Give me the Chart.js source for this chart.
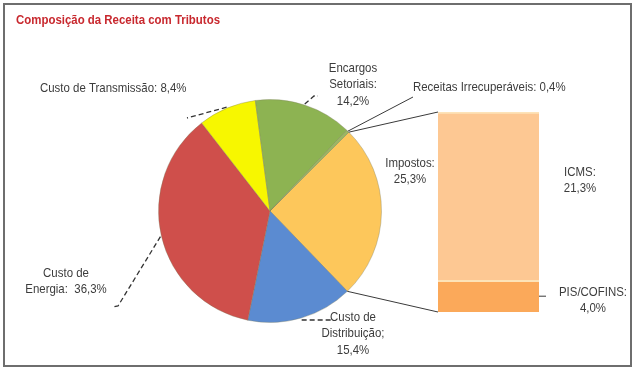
<!DOCTYPE html>
<html>
<head>
<meta charset="utf-8">
<script src="https://cdn.jsdelivr.net/npm/chart.js@4.4.1/dist/chart.umd.min.js"></script>
<style>
    body { margin: 0; background: #fff; }
    #moldura { position: relative; width: 640px; height: 372px; }
    #moldura canvas { position: absolute; left: 0; top: 0; }
    #borda { position: absolute; left: 3px; top: 3px; width: 629px; height: 364px; border: 2px solid #6e6e6e; box-sizing: border-box; }
</style>
</head>
<body>
<div id="moldura">
    <canvas id="graficoPizza" width="640" height="372"></canvas>
    <canvas id="graficoBarra" width="640" height="372"></canvas>
    <div id="borda"></div>
</div>
<script>
// dados
const titulo = 'Composição da Receita com Tributos';
const categorias = ['Impostos', 'Custo de Distribuição', 'Custo de Energia', 'Custo de Transmissão', 'Encargos Setoriais', 'Receitas Irrecuperáveis'];
const percentuais = [25.3, 15.4, 36.3, 8.4, 14.2, 0.4];
const coresPizza = ['#fdc75b', '#5b8bd1', '#cf4f4b', '#f7f700', '#8db352', '#9bb860'];

const tributos = ['PIS/COFINS', 'ICMS'];
const valoresTributos = [4.0, 21.3];
const coresTributos = ['#fba95a', '#fdc893'];

const fonte = '"Liberation Sans", Arial, sans-serif';

function fmt(v) {
    return v.toFixed(1).replace('.', ',') + '%';
}

// pontos na borda da pizza
function pontoArco(arco, ang, extra) {
    const r = arco.outerRadius + (extra || 0);
    return { x: arco.x + Math.cos(ang) * r, y: arco.y + Math.sin(ang) * r };
}

function linha(ctx, pts, tracejada) {
    ctx.save();
    ctx.beginPath();
    ctx.strokeStyle = tracejada ? '#333' : '#3a3a3a';
    ctx.lineWidth = tracejada ? 1.3 : 1;
    ctx.setLineDash(tracejada ? [5, 3] : []);
    ctx.moveTo(pts[0].x, pts[0].y);
    for (let i = 1; i < pts.length; i++) ctx.lineTo(pts[i].x, pts[i].y);
    ctx.stroke();
    ctx.restore();
}

// texto estreito (imita Arial Narrow)
function texto(ctx, linhas, x, y, alinhar) {
    const esc = 0.88;
    ctx.save();
    ctx.font = '13px ' + fonte;
    ctx.fillStyle = '#3c3c3c';
    ctx.textAlign = alinhar || 'center';
    ctx.textBaseline = 'middle';
    ctx.translate(x, y);
    ctx.scale(esc, 1);
    linhas.forEach((l, i) => ctx.fillText(l, 0, i * 16.5));
    ctx.restore();
}

const pizza = new Chart(document.getElementById('graficoPizza').getContext('2d'), {
    type: 'pie',
    data: {
        labels: categorias,
        datasets: [{
            data: percentuais,
            backgroundColor: coresPizza,
            borderColor: 'rgba(120,120,90,0.35)',
            borderWidth: 1
        }]
    },
    options: {
        responsive: false,
        animation: false,
        rotation: 45,
        layout: { padding: { left: 158, right: 258, top: 99, bottom: 49 } },
        plugins: { legend: { display: false }, tooltip: { enabled: false } }
    }
});

const rotulosPlugin = {
    id: 'rotulos',
    afterDraw(chart) {
        const ctx = chart.ctx;
        const arcos = pizza.getDatasetMeta(0).data;
        const meio = a => (a.startAngle + a.endAngle) / 2;
        const barra = chart.getDatasetMeta(0).data[0];
        const topo = chart.getDatasetMeta(1).data[0];
        const esq = barra.x - barra.width / 2;

        // titulo
        ctx.save();
        ctx.font = 'bold 13px ' + fonte;
        ctx.fillStyle = '#c8282e';
        ctx.textBaseline = 'middle';
        const w = ctx.measureText(titulo).width;
        ctx.translate(16, 20);
        ctx.scale(204 / w, 1);
        ctx.fillText(titulo, 0, 0);
        ctx.restore();

        // ligacoes pizza -> barra
        const imp = arcos[0];
        linha(ctx, [pontoArco(imp, imp.startAngle), { x: esq, y: topo.y }]);
        linha(ctx, [pontoArco(imp, imp.endAngle), { x: esq, y: barra.base }]);

        // linhas de chamada
        const pDist = pontoArco(arcos[1], meio(arcos[1]), 2);
        linha(ctx, [pDist, { x: pDist.x + 30, y: pDist.y }], true);
        const pEne = pontoArco(arcos[2], meio(arcos[2]), 1);
        linha(ctx, [pEne, { x: 118, y: 306 }, { x: 113, y: 307 }], true);
        const pTra = pontoArco(arcos[3], meio(arcos[3]), 1);
        linha(ctx, [pTra, { x: 187, y: 118 }], true);
        const pEnc = pontoArco(arcos[4], meio(arcos[4]), 1);
        linha(ctx, [pEnc, { x: 314, y: 96 }, { x: 318, y: 96 }], true);
        const pRec = pontoArco(arcos[5], meio(arcos[5]), 0);
        linha(ctx, [pRec, { x: 413, y: 97 }]);
        const dir = barra.x + barra.width / 2;
        linha(ctx, [{ x: dir, y: (barra.y + barra.base) / 2 }, { x: dir + 7, y: (barra.y + barra.base) / 2 }]);

        // textos
        texto(ctx, ['Custo de Transmissão: ' + fmt(percentuais[3])], 40, 88, 'left');
        texto(ctx, ['Encargos', 'Setoriais:', fmt(percentuais[4])], 353, 68);
        texto(ctx, ['Receitas Irrecuperáveis: ' + fmt(percentuais[5])], 413, 87, 'left');
        texto(ctx, ['Impostos:', fmt(percentuais[0])], 410, 163);
        texto(ctx, [tributos[1] + ':', fmt(valoresTributos[1])], 580, 172);
        texto(ctx, [tributos[0] + ':', fmt(valoresTributos[0])], 593, 292);
        texto(ctx, ['Custo de', 'Distribuição;', fmt(percentuais[1])], 353, 317);
        texto(ctx, ['Custo de', 'Energia:  ' + fmt(percentuais[2])], 66, 273);
    }
};

new Chart(document.getElementById('graficoBarra').getContext('2d'), {
    type: 'bar',
    data: {
        labels: ['Impostos'],
        datasets: tributos.map((t, i) => ({
            label: t,
            data: [valoresTributos[i]],
            backgroundColor: coresTributos[i],
            borderColor: '#fde3b8',
            borderWidth: { top: 2, left: 0, right: 0, bottom: 0 },
            borderSkipped: false,
            barPercentage: 1,
            categoryPercentage: 1
        }))
    },
    options: {
        responsive: false,
        animation: false,
        layout: { padding: { left: 438, right: 101, top: 112, bottom: 60 } },
        scales: {
            x: { stacked: true, display: false },
            y: { stacked: true, display: false, min: 0, max: 25.3 }
        },
        plugins: { legend: { display: false }, tooltip: { enabled: false } }
    },
    plugins: [rotulosPlugin]
});
</script>
</body>
</html>
